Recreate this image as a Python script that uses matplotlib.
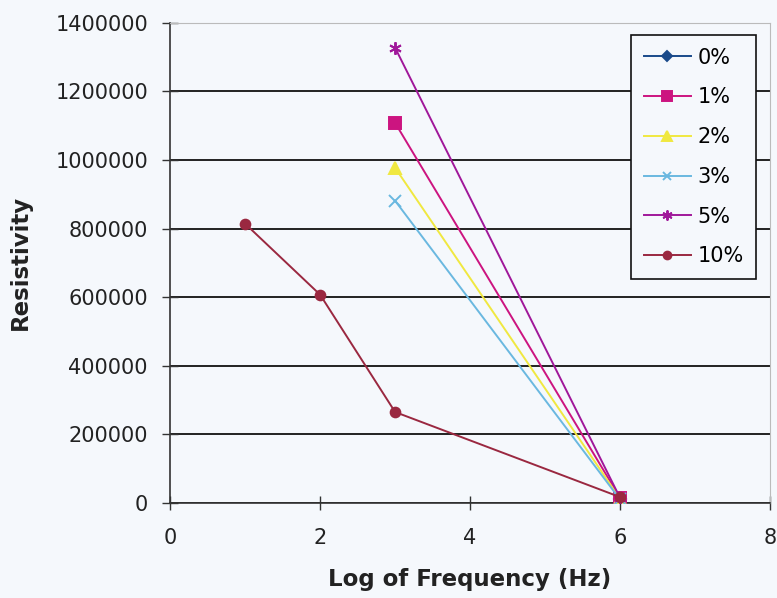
import matplotlib
matplotlib.use("Agg")
import matplotlib.pyplot as plt
from matplotlib.ticker import FuncFormatter

plt.rcParams['font.family'] = ['DejaVu Sans']

# data
labels = ['0%', '1%', '2%', '3%', '5%', '10%']
x_vals = {
    '0%': [6],
    '1%': [3, 6],
    '2%': [3, 6],
    '3%': [3, 6],
    '5%': [3, 6],
    '10%': [1, 2, 3, 6],
}
y_vals = {
    '0%': [12000],
    '1%': [1108000, 15000],
    '2%': [977000, 12000],
    '3%': [881000, 10000],
    '5%': [1327000, 15000],
    '10%': [814000, 607000, 265000, 17000],
}
colors = {'0%': '#1a4a8a', '1%': '#cc1480', '2%': '#f0e840', '3%': '#6ab8e0',
          '5%': '#a0189a', '10%': '#9a2840'}
markers = {'0%': 'D', '1%': 's', '2%': '^', '3%': 'x', '5%': (6, 2, 0), '10%': 'o'}
msizes = {'0%': 6, '1%': 9, '2%': 9, '3%': 8, '5%': 9, '10%': 7}

fig = plt.figure(figsize=(7.77, 5.98), dpi=100)
fig.patch.set_facecolor('#f5f8fc')
ax = fig.add_axes([0.219, 0.159, 0.772, 0.803])
ax.set_facecolor('#f5f8fc')

for lab in labels:
    ax.plot(x_vals[lab], y_vals[lab], color=colors[lab], marker=markers[lab],
            markersize=msizes[lab], linewidth=1.4, label=lab, zorder=3,
            markeredgewidth=1.4)

ax.set_xlim(0, 8)
ax.set_ylim(0, 1400000)
ax.set_xticks([0, 2, 4, 6, 8])
ax.set_yticks(range(0, 1400001, 200000))
ax.yaxis.set_major_formatter(FuncFormatter(lambda v, p: f'{int(v)}'))
ax.yaxis.grid(True, color='#222222', linewidth=1.4)
ax.set_axisbelow(True)
ax.tick_params(width=1, labelsize=15, colors='#333333', labelcolor='#222222')
ax.tick_params(axis='x', direction='inout', length=10, pad=13)
ax.tick_params(axis='y', direction='inout', length=12, pad=10)

for side in ['top', 'right']:
    ax.spines[side].set_color('#bbbbbb')
for side in ['left', 'bottom']:
    ax.spines[side].set_color('#333333')
    ax.spines[side].set_linewidth(1.2)

ax.set_xlabel('Log of Frequency (Hz)', fontsize=16.5, fontweight='bold',
              color='#222222', va='center')
ax.set_ylabel('Resistivity', fontsize=16.5, fontweight='bold',
              color='#222222', va='center')
ax.xaxis.set_label_coords(0.5, -0.16)
ax.yaxis.set_label_coords(-0.25, 0.5)

leg = ax.legend(loc='upper left', bbox_to_anchor=(631 / 777, 1 - 35 / 598),
                bbox_transform=fig.transFigure, borderaxespad=0, fontsize=15,
                fancybox=False, edgecolor='#111111', facecolor='#f5f8fc',
                framealpha=1, handlelength=2.3, labelspacing=0.95,
                borderpad=0.6, handletextpad=0.3, markerscale=0.8)
leg.get_frame().set_linewidth(1.2)

fig.savefig('out.png', dpi=100, facecolor=fig.get_facecolor())
